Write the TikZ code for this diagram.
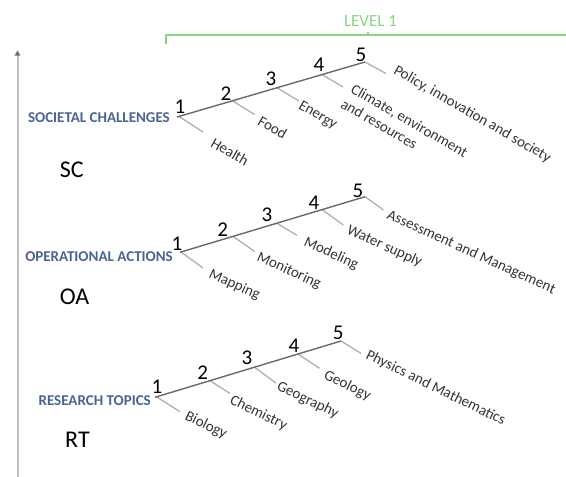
\documentclass[tikz,border=0pt]{standalone}
\usepackage{fontspec}
\setmainfont{Carlito}
\usetikzlibrary{arrows.meta}
\definecolor{maingray}{RGB}{105,105,105}
\definecolor{branchgray}{RGB}{172,176,182}
\definecolor{labgray}{RGB}{52,52,52}
\definecolor{headblue}{RGB}{72,100,148}
\definecolor{lvlgreen}{RGB}{130,215,130}
\definecolor{axisgray}{RGB}{192,192,192}
\definecolor{tipgray}{RGB}{110,110,110}
\tikzset{
  mainline/.style={draw=maingray, line width=1.4pt},
  branchline/.style={draw=branchgray, line width=1.3pt},
  numlab/.style={font=\fontsize{21}{21}\selectfont, inner sep=0pt},
  toplab/.style={font=\fontsize{15}{15}\selectfont, text=labgray, inner sep=0pt, anchor=mid west},
  sclab/.style={toplab, rotate=-30},
  oalab/.style={toplab, rotate=-24.5},
  rtlab/.style={toplab, rotate=-26},
  headlab/.style={font=\bfseries\fontsize{15}{15}\selectfont, text=headblue, inner sep=0pt, anchor=east},
  abbrlab/.style={font=\fontsize{24}{24}\selectfont, inner sep=0pt, anchor=west},
  lvlline/.style={draw=lvlgreen, line width=1.2pt},
  axisline/.style={draw=axisgray, line width=2pt}
}
\begin{document}
\begin{tikzpicture}[x=1pt,y=-1pt]
\useasboundingbox (0,0) rectangle (566,477);
% vertical axis
\coordinate (axb) at (17.5,477);
\coordinate (axt) at (17.5,50.5);
\draw[axisline, -{Triangle[length=5pt,width=5.5pt,color=tipgray]}] (axb) -- (axt);
% level bracket
\coordinate (brl) at (166,43.5);
\coordinate (brc) at (166,35);
\coordinate (brr) at (566,35);
\coordinate (tka) at (368,35);
\coordinate (tkb) at (368,31.5);
\draw[lvlline] (brl) -- (brc) -- (brr);
\draw[lvlline] (tka) -- (tkb);
\node[font=\fontsize{17}{17}\selectfont, text=lvlgreen, inner sep=0pt] (level) at (370.5,21.5) {LEVEL 1};

% ---------- Societal challenges ----------
\coordinate (scS) at (177,117);
\coordinate (scE) at (365,62);
\coordinate (sc1) at (179,116.4);   \coordinate (sc1e) at (203,132);
\coordinate (sc2) at (232.5,100.8); \coordinate (sc2e) at (254.5,114.5);
\coordinate (sc3) at (277,87.7);    \coordinate (sc3e) at (299,101);
\coordinate (sc4) at (322,74.6);    \coordinate (sc4e) at (343,87);
\coordinate (sc5) at (365,62);      \coordinate (sc5e) at (386,73.5);
\foreach \i in {1,...,5} {\draw[branchline] (sc\i) -- (sc\i e);}
\draw[mainline] (scS) -- (scE);
\node[headlab] (schead) at (170,117.5) {SOCIETAL CHALLENGES};
\node[numlab] (scn1) at (180,107) {1};
\node[numlab] (scn2) at (226,94) {2};
\node[numlab] (scn3) at (271,79) {3};
\node[numlab] (scn4) at (319,65) {4};
\node[numlab] (scn5) at (361,55) {5};
\node[sclab] (scl1) at (211,144) {Health};
\node[sclab] (scl2) at (258,122) {Food};
\node[sclab] (scl3) at (299,106) {Energy};
\node[sclab] (scl4a) at (351,90) {Climate, environment};
\node[sclab] (scl4b) at (341,105) {and resources};
\node[sclab] (scl5) at (394,71) {Policy, innovation and society};
\node[abbrlab] (scab) at (59.6,169.3) {SC};

% ---------- Operational actions ----------
\coordinate (oaS) at (180,252.3);
\coordinate (oaE) at (365,196.7);
\coordinate (oa1) at (181,252);     \coordinate (oa1e) at (203,268);
\coordinate (oa2) at (233,236.4);   \coordinate (oa2e) at (255,251.7);
\coordinate (oa3) at (277,223.2);   \coordinate (oa3e) at (297,235.5);
\coordinate (oa4) at (322,209.6);   \coordinate (oa4e) at (343.3,225);
\coordinate (oa5) at (365,196.7);   \coordinate (oa5e) at (383.5,210);
\foreach \i in {1,...,5} {\draw[branchline] (oa\i) -- (oa\i e);}
\draw[mainline] (oaS) -- (oaE);
\node[headlab] (oahead) at (173,256.5) {OPERATIONAL ACTIONS};
\node[numlab] (oan1) at (177,244) {1};
\node[numlab] (oan2) at (222.7,230) {2};
\node[numlab] (oan3) at (267,215) {3};
\node[numlab] (oan4) at (314,202.5) {4};
\node[numlab] (oan5) at (358,190.5) {5};
\node[oalab] (oal1) at (209,275) {Mapping};
\node[oalab] (oal2) at (257,258) {Monitoring};
\node[oalab] (oal3) at (304,243) {Modeling};
\node[oalab] (oal4) at (347,231) {Water supply};
\node[oalab] (oal5) at (387,216) {Assessment and Management};
\node[abbrlab] (oaab) at (59.6,296.7) {OA};

% ---------- Research topics ----------
\coordinate (rtS) at (155,397.3);
\coordinate (rtE) at (341,341);
\coordinate (rt1) at (156.5,396.8); \coordinate (rt1e) at (180,411.7);
\coordinate (rt2) at (210,380.7);   \coordinate (rt2e) at (230,393.5);
\coordinate (rt3) at (254.5,367.2); \coordinate (rt3e) at (276,383);
\coordinate (rt4) at (298,354);     \coordinate (rt4e) at (319.5,368.3);
\coordinate (rt5) at (341,341);     \coordinate (rt5e) at (361,353.3);
\foreach \i in {1,...,5} {\draw[branchline] (rt\i) -- (rt\i e);}
\draw[mainline] (rtS) -- (rtE);
\node[headlab] (rthead) at (151,401) {RESEARCH TOPICS};
\node[numlab] (rtn1) at (157,386.7) {1};
\node[numlab] (rtn2) at (202.7,372.7) {2};
\node[numlab] (rtn3) at (247,358) {3};
\node[numlab] (rtn4) at (294,346) {4};
\node[numlab] (rtn5) at (338.3,333.3) {5};
\node[rtlab] (rtl1) at (185,417) {Biology};
\node[rtlab] (rtl2) at (230,401) {Chemistry};
\node[rtlab] (rtl3) at (277,387) {Geography};
\node[rtlab] (rtl4) at (324,376) {Geology};
\node[rtlab] (rtl5) at (366,356) {Physics and Mathematics};
\node[abbrlab] (rtab) at (65,440) {RT};
\end{tikzpicture}
\end{document}
